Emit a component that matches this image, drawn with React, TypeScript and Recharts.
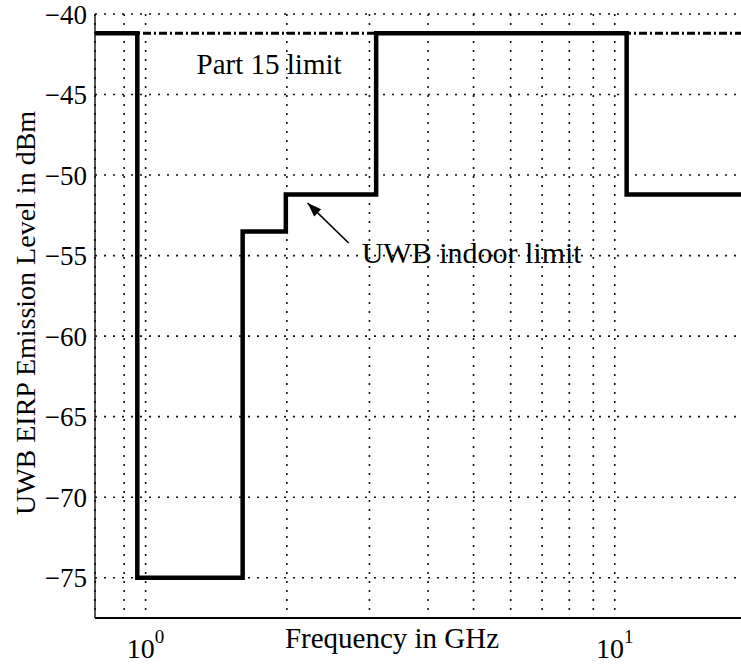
import React from 'react';
import { LineChart, Line, XAxis, YAxis, CartesianGrid, ReferenceDot, ReferenceLine, Label } from 'recharts';

// ---- data ----
const stepFrequencies = [0.78, 0.96, 1.61, 1.99, 3.1, 10.6, 20];
const indoorLimit = [-41.2, -75, -53.5, -51.2, -41.2, -51.2, -51.2];
const part15Frequencies = [0.78, 20];
const part15Limit = [-41.2, -41.2];
const xGridTicks = [0.9, 1, 2, 3, 4, 5, 6, 7, 8, 9, 10];
const xLabelTicks = [1, 10];
const xTickExponents = ['0', '1'];
const yTicks = [-75, -70, -65, -60, -55, -50, -45, -40];

const indoorData = stepFrequencies.map((f, i) => ({ f, v: indoorLimit[i] }));
const part15Data = part15Frequencies.map((f, i) => ({ f, v: part15Limit[i] }));

const FONT = '"Liberation Serif", "Times New Roman", serif';

const XTick = (props: any) => {
  const { x, y, payload } = props;
  const idx = xLabelTicks.indexOf(payload.value);
  if (idx < 0) return <g />;
  return (
    <text x={x} y={y + 32} textAnchor="middle" fontFamily={FONT} fontSize={28} fill="#000">
      10
      <tspan dy={-15} fontSize={19}>
        {xTickExponents[idx]}
      </tspan>
    </text>
  );
};

const TextShape = (text: string, size: number) => (p: any) => (
  <text x={p.cx} y={p.cy} textAnchor="start" fontFamily={FONT} fontSize={size} fill="#000">
    {text}
  </text>
);

const ArrowHead = (p: any) => (
  <polygon
    points="0,0 -14,-5 -14,5"
    transform={`translate(${p.cx},${p.cy}) rotate(224.3)`}
    fill="#000"
  />
);

export default function App() {
  return (
    <div style={{ position: 'fixed', left: 0, top: 0, width: 741, height: 667, overflow: 'hidden', background: '#fff' }}>
      <LineChart width={800} height={667} margin={{ top: 14, right: 44, bottom: 0, left: 0 }}>
        <CartesianGrid stroke="#111" strokeWidth={1.6} strokeDasharray="2 7" />
        <XAxis
          dataKey="f"
          type="number"
          scale="log"
          domain={[0.78, 20]}
          allowDataOverflow
          ticks={xGridTicks}
          interval={0}
          height={49}
          tickLine={false}
          axisLine={{ stroke: '#000', strokeWidth: 1.8 }}
          tick={<XTick />}
        >
          <Label
            content={() => (
              <text x={392} y={648} textAnchor="middle" fontFamily={FONT} fontSize={29} fill="#000">
                Frequency in GHz
              </text>
            )}
          />
        </XAxis>
        <YAxis
          type="number"
          domain={[-77.5, -40]}
          allowDataOverflow
          ticks={yTicks}
          interval={0}
          width={95}
          tickLine={false}
          axisLine={{ stroke: '#000', strokeWidth: 1.3 }}
          tick={{ fill: '#000', fontSize: 27, fontFamily: FONT }}
          tickFormatter={(v: number) => String(v).replace('-', '\u2212')}
        >
          <Label
            content={() => (
              <text
                x={35}
                y={313}
                transform="rotate(-90, 35, 313)"
                textAnchor="middle"
                fontFamily={FONT}
                fontSize={28}
                fill="#000"
              >
                UWB EIRP Emission Level in dBm
              </text>
            )}
          />
        </YAxis>
        <Line
          data={part15Data}
          dataKey="v"
          type="linear"
          stroke="#000"
          strokeWidth={3}
          strokeDasharray="8 3 2 3"
          dot={false}
          activeDot={false}
          isAnimationActive={false}
        />
        <Line
          data={indoorData}
          dataKey="v"
          type="stepAfter"
          stroke="#000"
          strokeWidth={4.5}
          dot={false}
          activeDot={false}
          isAnimationActive={false}
        />
        <ReferenceLine
          segment={[
            { x: 2.709, y: -54.22 },
            { x: 2.215, y: -51.74 },
          ]}
          stroke="#000"
          strokeWidth={1.6}
          ifOverflow="visible"
        />
        <ReferenceDot x={2.215} y={-51.74} r={1} shape={ArrowHead} ifOverflow="visible" />
        <ReferenceDot x={1.284} y={-43.73} r={1} shape={TextShape('Part 15 limit', 29)} ifOverflow="visible" />
        <ReferenceDot x={2.888} y={-55.47} r={1} shape={TextShape('UWB indoor limit', 30)} ifOverflow="visible" />
      </LineChart>
    </div>
  );
}
